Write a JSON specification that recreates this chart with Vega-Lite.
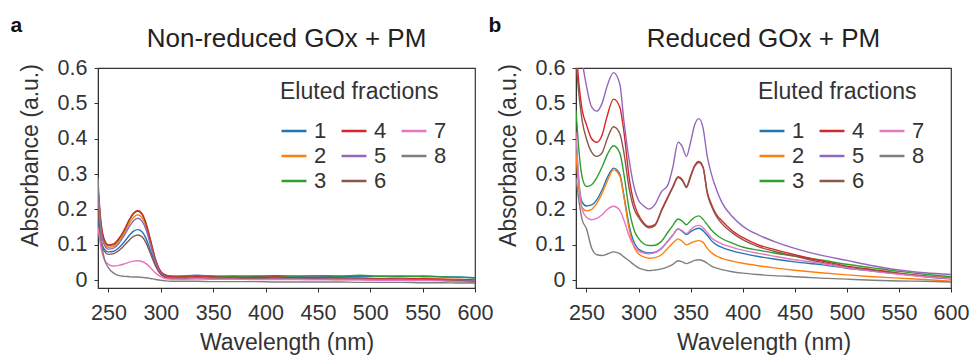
{
  "$schema": "https://vega.github.io/schema/vega-lite/v6.json",
  "padding": {"left": 10, "top": 15, "right": 0, "bottom": 0},
  "config": {
    "font": "Liberation Sans",
    "view": {"stroke": "#333", "strokeWidth": 1.2},
    "axis": {"grid": false, "domainColor": "#333", "tickColor": "#333", "tickSize": 4, "labelFontSize": 21.5, "labelColor": "#333", "titleFontSize": 23, "titleFontWeight": "normal", "titleColor": "#333", "labelOverlap": false, "labelFlush": false},
    "legend": {"orient": "none", "legendX": 182, "legendY": 13, "columns": 3, "symbolType": "stroke", "symbolSize": 620, "symbolStrokeWidth": 2.5, "labelFontSize": 22, "titleFontSize": 23, "titleFontWeight": "normal", "titleColor": "#333", "labelColor": "#333", "columnPadding": 9, "rowPadding": -2.5, "labelOffset": 6, "titlePadding": 13}
  },
  "datasets": {
    "a": [
      {"f":"1","w":240,"a":0.18},{"f":"1","w":243,"a":0.11},{"f":"1","w":246,"a":0.088},{"f":"1","w":250,"a":0.08},{"f":"1","w":255,"a":0.082},{"f":"1","w":260,"a":0.092},{"f":"1","w":265,"a":0.108},{"f":"1","w":270,"a":0.127},{"f":"1","w":274,"a":0.139},{"f":"1","w":278,"a":0.143},{"f":"1","w":282,"a":0.137},{"f":"1","w":286,"a":0.117},{"f":"1","w":290,"a":0.085},{"f":"1","w":295,"a":0.045},{"f":"1","w":300,"a":0.02},{"f":"1","w":305,"a":0.012},{"f":"1","w":310,"a":0.011},{"f":"1","w":320,"a":0.012},{"f":"1","w":335,"a":0.014},{"f":"1","w":350,"a":0.011},{"f":"1","w":370,"a":0.012},{"f":"1","w":390,"a":0.011},{"f":"1","w":410,"a":0.013},{"f":"1","w":430,"a":0.011},{"f":"1","w":450,"a":0.012},{"f":"1","w":470,"a":0.011},{"f":"1","w":490,"a":0.01},{"f":"1","w":510,"a":0.012},{"f":"1","w":530,"a":0.011},{"f":"1","w":550,"a":0.012},{"f":"1","w":570,"a":0.01},{"f":"1","w":585,"a":0.009},{"f":"1","w":600,"a":0.007},
      {"f":"2","w":240,"a":0.25},{"f":"2","w":243,"a":0.15},{"f":"2","w":246,"a":0.107},{"f":"2","w":250,"a":0.093},{"f":"2","w":255,"a":0.096},{"f":"2","w":260,"a":0.11},{"f":"2","w":265,"a":0.133},{"f":"2","w":270,"a":0.161},{"f":"2","w":274,"a":0.178},{"f":"2","w":278,"a":0.185},{"f":"2","w":282,"a":0.177},{"f":"2","w":286,"a":0.15},{"f":"2","w":290,"a":0.107},{"f":"2","w":295,"a":0.054},{"f":"2","w":300,"a":0.022},{"f":"2","w":305,"a":0.011},{"f":"2","w":310,"a":0.008},{"f":"2","w":320,"a":0.007},{"f":"2","w":335,"a":0.008},{"f":"2","w":350,"a":0.007},{"f":"2","w":370,"a":0.007},{"f":"2","w":390,"a":0.006},{"f":"2","w":410,"a":0.007},{"f":"2","w":430,"a":0.006},{"f":"2","w":450,"a":0.006},{"f":"2","w":470,"a":0.005},{"f":"2","w":490,"a":0.005},{"f":"2","w":510,"a":0.004},{"f":"2","w":530,"a":0.004},{"f":"2","w":550,"a":0.003},{"f":"2","w":570,"a":0.003},{"f":"2","w":585,"a":0.002},{"f":"2","w":600,"a":0},
      {"f":"3","w":240,"a":0.26},{"f":"3","w":243,"a":0.155},{"f":"3","w":246,"a":0.113},{"f":"3","w":250,"a":0.098},{"f":"3","w":255,"a":0.101},{"f":"3","w":260,"a":0.116},{"f":"3","w":265,"a":0.14},{"f":"3","w":270,"a":0.17},{"f":"3","w":274,"a":0.188},{"f":"3","w":278,"a":0.195},{"f":"3","w":282,"a":0.186},{"f":"3","w":286,"a":0.158},{"f":"3","w":290,"a":0.113},{"f":"3","w":295,"a":0.057},{"f":"3","w":300,"a":0.024},{"f":"3","w":305,"a":0.014},{"f":"3","w":310,"a":0.012},{"f":"3","w":320,"a":0.011},{"f":"3","w":335,"a":0.013},{"f":"3","w":350,"a":0.012},{"f":"3","w":370,"a":0.011},{"f":"3","w":390,"a":0.012},{"f":"3","w":410,"a":0.011},{"f":"3","w":430,"a":0.012},{"f":"3","w":450,"a":0.013},{"f":"3","w":470,"a":0.012},{"f":"3","w":490,"a":0.014},{"f":"3","w":510,"a":0.011},{"f":"3","w":530,"a":0.012},{"f":"3","w":550,"a":0.01},{"f":"3","w":570,"a":0.009},{"f":"3","w":585,"a":0.008},{"f":"3","w":600,"a":0.006},
      {"f":"4","w":240,"a":0.27},{"f":"4","w":243,"a":0.16},{"f":"4","w":246,"a":0.115},{"f":"4","w":250,"a":0.1},{"f":"4","w":255,"a":0.103},{"f":"4","w":260,"a":0.118},{"f":"4","w":265,"a":0.142},{"f":"4","w":270,"a":0.172},{"f":"4","w":274,"a":0.19},{"f":"4","w":278,"a":0.197},{"f":"4","w":282,"a":0.188},{"f":"4","w":286,"a":0.16},{"f":"4","w":290,"a":0.115},{"f":"4","w":295,"a":0.058},{"f":"4","w":300,"a":0.024},{"f":"4","w":305,"a":0.013},{"f":"4","w":310,"a":0.01},{"f":"4","w":320,"a":0.009},{"f":"4","w":335,"a":0.01},{"f":"4","w":350,"a":0.009},{"f":"4","w":370,"a":0.008},{"f":"4","w":390,"a":0.008},{"f":"4","w":410,"a":0.009},{"f":"4","w":430,"a":0.007},{"f":"4","w":450,"a":0.008},{"f":"4","w":470,"a":0.007},{"f":"4","w":490,"a":0.006},{"f":"4","w":510,"a":0.005},{"f":"4","w":530,"a":0.006},{"f":"4","w":550,"a":0.004},{"f":"4","w":570,"a":0.003},{"f":"4","w":585,"a":0.002},{"f":"4","w":600,"a":0.001},
      {"f":"5","w":240,"a":0.24},{"f":"5","w":243,"a":0.14},{"f":"5","w":246,"a":0.1},{"f":"5","w":250,"a":0.088},{"f":"5","w":255,"a":0.091},{"f":"5","w":260,"a":0.104},{"f":"5","w":265,"a":0.126},{"f":"5","w":270,"a":0.152},{"f":"5","w":274,"a":0.168},{"f":"5","w":278,"a":0.175},{"f":"5","w":282,"a":0.167},{"f":"5","w":286,"a":0.142},{"f":"5","w":290,"a":0.101},{"f":"5","w":295,"a":0.051},{"f":"5","w":300,"a":0.02},{"f":"5","w":305,"a":0.009},{"f":"5","w":310,"a":0.006},{"f":"5","w":320,"a":0.005},{"f":"5","w":335,"a":0.006},{"f":"5","w":350,"a":0.005},{"f":"5","w":370,"a":0.005},{"f":"5","w":390,"a":0.004},{"f":"5","w":410,"a":0.004},{"f":"5","w":430,"a":0.004},{"f":"5","w":450,"a":0.004},{"f":"5","w":470,"a":0.003},{"f":"5","w":490,"a":0.003},{"f":"5","w":510,"a":0.002},{"f":"5","w":530,"a":0.002},{"f":"5","w":550,"a":0.001},{"f":"5","w":570,"a":0.001},{"f":"5","w":585,"a":0},{"f":"5","w":600,"a":-0.002},
      {"f":"6","w":240,"a":0.2},{"f":"6","w":243,"a":0.11},{"f":"6","w":246,"a":0.082},{"f":"6","w":250,"a":0.073},{"f":"6","w":255,"a":0.075},{"f":"6","w":260,"a":0.084},{"f":"6","w":265,"a":0.098},{"f":"6","w":270,"a":0.114},{"f":"6","w":274,"a":0.124},{"f":"6","w":278,"a":0.128},{"f":"6","w":282,"a":0.123},{"f":"6","w":286,"a":0.105},{"f":"6","w":290,"a":0.076},{"f":"6","w":295,"a":0.04},{"f":"6","w":300,"a":0.016},{"f":"6","w":305,"a":0.007},{"f":"6","w":310,"a":0.005},{"f":"6","w":320,"a":0.004},{"f":"6","w":335,"a":0.005},{"f":"6","w":350,"a":0.004},{"f":"6","w":370,"a":0.004},{"f":"6","w":390,"a":0.004},{"f":"6","w":410,"a":0.003},{"f":"6","w":430,"a":0.003},{"f":"6","w":450,"a":0.003},{"f":"6","w":470,"a":0.002},{"f":"6","w":490,"a":0.002},{"f":"6","w":510,"a":0.001},{"f":"6","w":530,"a":0.001},{"f":"6","w":550,"a":0},{"f":"6","w":570,"a":0},{"f":"6","w":585,"a":-0.002},{"f":"6","w":600,"a":-0.004},
      {"f":"7","w":240,"a":0.15},{"f":"7","w":243,"a":0.09},{"f":"7","w":246,"a":0.058},{"f":"7","w":250,"a":0.045},{"f":"7","w":255,"a":0.04},{"f":"7","w":260,"a":0.042},{"f":"7","w":265,"a":0.046},{"f":"7","w":270,"a":0.051},{"f":"7","w":274,"a":0.054},{"f":"7","w":278,"a":0.055},{"f":"7","w":282,"a":0.053},{"f":"7","w":286,"a":0.047},{"f":"7","w":290,"a":0.036},{"f":"7","w":295,"a":0.02},{"f":"7","w":300,"a":0.01},{"f":"7","w":305,"a":0.004},{"f":"7","w":310,"a":0.003},{"f":"7","w":320,"a":0.003},{"f":"7","w":335,"a":0.004},{"f":"7","w":350,"a":0.003},{"f":"7","w":370,"a":0.003},{"f":"7","w":390,"a":0.002},{"f":"7","w":410,"a":0.002},{"f":"7","w":430,"a":0.002},{"f":"7","w":450,"a":0.001},{"f":"7","w":470,"a":0.001},{"f":"7","w":490,"a":0.001},{"f":"7","w":510,"a":0},{"f":"7","w":530,"a":0},{"f":"7","w":550,"a":-0.001},{"f":"7","w":570,"a":-0.002},{"f":"7","w":585,"a":-0.004},{"f":"7","w":600,"a":-0.006},
      {"f":"8","w":240,"a":0.29},{"f":"8","w":243,"a":0.12},{"f":"8","w":246,"a":0.062},{"f":"8","w":250,"a":0.035},{"f":"8","w":255,"a":0.02},{"f":"8","w":260,"a":0.013},{"f":"8","w":265,"a":0.011},{"f":"8","w":270,"a":0.01},{"f":"8","w":274,"a":0.009},{"f":"8","w":278,"a":0.009},{"f":"8","w":282,"a":0.008},{"f":"8","w":286,"a":0.007},{"f":"8","w":290,"a":0.005},{"f":"8","w":295,"a":0.002},{"f":"8","w":300,"a":0},{"f":"8","w":305,"a":-0.002},{"f":"8","w":310,"a":-0.003},{"f":"8","w":320,"a":-0.003},{"f":"8","w":335,"a":-0.003},{"f":"8","w":350,"a":-0.004},{"f":"8","w":370,"a":-0.004},{"f":"8","w":390,"a":-0.004},{"f":"8","w":410,"a":-0.005},{"f":"8","w":430,"a":-0.005},{"f":"8","w":450,"a":-0.005},{"f":"8","w":470,"a":-0.005},{"f":"8","w":490,"a":-0.006},{"f":"8","w":510,"a":-0.006},{"f":"8","w":530,"a":-0.006},{"f":"8","w":550,"a":-0.007},{"f":"8","w":570,"a":-0.007},{"f":"8","w":585,"a":-0.008},{"f":"8","w":600,"a":-0.008}
    ],
    "b": [
      {"f":"1","w":240,"a":0.4},{"f":"1","w":243,"a":0.27},{"f":"1","w":246,"a":0.22},{"f":"1","w":250,"a":0.21},{"f":"1","w":255,"a":0.213},{"f":"1","w":260,"a":0.228},{"f":"1","w":265,"a":0.255},{"f":"1","w":270,"a":0.29},{"f":"1","w":276,"a":0.317},{"f":"1","w":282,"a":0.3},{"f":"1","w":286,"a":0.24},{"f":"1","w":291,"a":0.155},{"f":"1","w":296,"a":0.105},{"f":"1","w":300,"a":0.088},{"f":"1","w":305,"a":0.08},{"f":"1","w":310,"a":0.077},{"f":"1","w":316,"a":0.079},{"f":"1","w":322,"a":0.09},{"f":"1","w":328,"a":0.11},{"f":"1","w":333,"a":0.128},{"f":"1","w":338,"a":0.145},{"f":"1","w":342,"a":0.138},{"f":"1","w":346,"a":0.129},{"f":"1","w":350,"a":0.137},{"f":"1","w":354,"a":0.144},{"f":"1","w":358,"a":0.147},{"f":"1","w":362,"a":0.14},{"f":"1","w":366,"a":0.127},{"f":"1","w":370,"a":0.112},{"f":"1","w":375,"a":0.1},{"f":"1","w":380,"a":0.093},{"f":"1","w":390,"a":0.083},{"f":"1","w":400,"a":0.076},{"f":"1","w":415,"a":0.067},{"f":"1","w":430,"a":0.06},{"f":"1","w":450,"a":0.052},{"f":"1","w":475,"a":0.044},{"f":"1","w":500,"a":0.034},{"f":"1","w":525,"a":0.026},{"f":"1","w":550,"a":0.018},{"f":"1","w":575,"a":0.01},{"f":"1","w":600,"a":0.004},
      {"f":"2","w":240,"a":0.36},{"f":"2","w":243,"a":0.25},{"f":"2","w":246,"a":0.205},{"f":"2","w":250,"a":0.196},{"f":"2","w":255,"a":0.2},{"f":"2","w":260,"a":0.218},{"f":"2","w":265,"a":0.245},{"f":"2","w":270,"a":0.28},{"f":"2","w":276,"a":0.312},{"f":"2","w":282,"a":0.295},{"f":"2","w":286,"a":0.235},{"f":"2","w":291,"a":0.145},{"f":"2","w":296,"a":0.092},{"f":"2","w":300,"a":0.075},{"f":"2","w":305,"a":0.066},{"f":"2","w":310,"a":0.062},{"f":"2","w":316,"a":0.064},{"f":"2","w":322,"a":0.072},{"f":"2","w":328,"a":0.09},{"f":"2","w":333,"a":0.105},{"f":"2","w":338,"a":0.117},{"f":"2","w":342,"a":0.11},{"f":"2","w":346,"a":0.1},{"f":"2","w":350,"a":0.105},{"f":"2","w":354,"a":0.11},{"f":"2","w":358,"a":0.112},{"f":"2","w":362,"a":0.107},{"f":"2","w":366,"a":0.09},{"f":"2","w":370,"a":0.078},{"f":"2","w":375,"a":0.068},{"f":"2","w":380,"a":0.062},{"f":"2","w":390,"a":0.054},{"f":"2","w":400,"a":0.048},{"f":"2","w":415,"a":0.041},{"f":"2","w":430,"a":0.035},{"f":"2","w":450,"a":0.028},{"f":"2","w":475,"a":0.021},{"f":"2","w":500,"a":0.015},{"f":"2","w":525,"a":0.01},{"f":"2","w":550,"a":0.006},{"f":"2","w":575,"a":0.002},{"f":"2","w":600,"a":-0.003},
      {"f":"3","w":240,"a":0.48},{"f":"3","w":243,"a":0.36},{"f":"3","w":246,"a":0.29},{"f":"3","w":250,"a":0.265},{"f":"3","w":255,"a":0.27},{"f":"3","w":260,"a":0.29},{"f":"3","w":265,"a":0.32},{"f":"3","w":270,"a":0.355},{"f":"3","w":276,"a":0.38},{"f":"3","w":282,"a":0.36},{"f":"3","w":286,"a":0.3},{"f":"3","w":291,"a":0.2},{"f":"3","w":296,"a":0.14},{"f":"3","w":300,"a":0.118},{"f":"3","w":305,"a":0.103},{"f":"3","w":310,"a":0.098},{"f":"3","w":316,"a":0.099},{"f":"3","w":322,"a":0.11},{"f":"3","w":328,"a":0.135},{"f":"3","w":333,"a":0.155},{"f":"3","w":338,"a":0.173},{"f":"3","w":342,"a":0.167},{"f":"3","w":346,"a":0.157},{"f":"3","w":350,"a":0.168},{"f":"3","w":354,"a":0.178},{"f":"3","w":358,"a":0.182},{"f":"3","w":362,"a":0.172},{"f":"3","w":366,"a":0.157},{"f":"3","w":370,"a":0.142},{"f":"3","w":375,"a":0.128},{"f":"3","w":380,"a":0.118},{"f":"3","w":390,"a":0.105},{"f":"3","w":400,"a":0.094},{"f":"3","w":415,"a":0.085},{"f":"3","w":430,"a":0.077},{"f":"3","w":450,"a":0.068},{"f":"3","w":475,"a":0.057},{"f":"3","w":500,"a":0.045},{"f":"3","w":525,"a":0.035},{"f":"3","w":550,"a":0.025},{"f":"3","w":575,"a":0.017},{"f":"3","w":600,"a":0.01},
      {"f":"4","w":240,"a":0.66},{"f":"4","w":243,"a":0.55},{"f":"4","w":246,"a":0.48},{"f":"4","w":250,"a":0.44},{"f":"4","w":255,"a":0.4},{"f":"4","w":260,"a":0.39},{"f":"4","w":265,"a":0.41},{"f":"4","w":270,"a":0.465},{"f":"4","w":276,"a":0.512},{"f":"4","w":282,"a":0.49},{"f":"4","w":286,"a":0.42},{"f":"4","w":291,"a":0.29},{"f":"4","w":296,"a":0.215},{"f":"4","w":300,"a":0.185},{"f":"4","w":305,"a":0.162},{"f":"4","w":310,"a":0.152},{"f":"4","w":316,"a":0.158},{"f":"4","w":322,"a":0.198},{"f":"4","w":328,"a":0.235},{"f":"4","w":333,"a":0.265},{"f":"4","w":338,"a":0.293},{"f":"4","w":342,"a":0.285},{"f":"4","w":346,"a":0.265},{"f":"4","w":350,"a":0.295},{"f":"4","w":354,"a":0.325},{"f":"4","w":358,"a":0.336},{"f":"4","w":362,"a":0.32},{"f":"4","w":366,"a":0.25},{"f":"4","w":370,"a":0.215},{"f":"4","w":375,"a":0.185},{"f":"4","w":380,"a":0.168},{"f":"4","w":390,"a":0.14},{"f":"4","w":400,"a":0.121},{"f":"4","w":415,"a":0.1},{"f":"4","w":430,"a":0.087},{"f":"4","w":450,"a":0.072},{"f":"4","w":475,"a":0.055},{"f":"4","w":500,"a":0.04},{"f":"4","w":525,"a":0.03},{"f":"4","w":550,"a":0.02},{"f":"4","w":575,"a":0.012},{"f":"4","w":600,"a":0.006},
      {"f":"5","w":240,"a":0.8},{"f":"5","w":243,"a":0.7},{"f":"5","w":246,"a":0.62},{"f":"5","w":250,"a":0.55},{"f":"5","w":255,"a":0.49},{"f":"5","w":260,"a":0.478},{"f":"5","w":265,"a":0.5},{"f":"5","w":270,"a":0.55},{"f":"5","w":276,"a":0.587},{"f":"5","w":282,"a":0.555},{"f":"5","w":286,"a":0.45},{"f":"5","w":291,"a":0.34},{"f":"5","w":296,"a":0.26},{"f":"5","w":300,"a":0.226},{"f":"5","w":305,"a":0.21},{"f":"5","w":310,"a":0.201},{"f":"5","w":316,"a":0.215},{"f":"5","w":322,"a":0.25},{"f":"5","w":328,"a":0.268},{"f":"5","w":333,"a":0.32},{"f":"5","w":338,"a":0.39},{"f":"5","w":342,"a":0.378},{"f":"5","w":346,"a":0.35},{"f":"5","w":350,"a":0.39},{"f":"5","w":354,"a":0.44},{"f":"5","w":358,"a":0.457},{"f":"5","w":362,"a":0.43},{"f":"5","w":366,"a":0.35},{"f":"5","w":370,"a":0.3},{"f":"5","w":375,"a":0.255},{"f":"5","w":380,"a":0.22},{"f":"5","w":390,"a":0.18},{"f":"5","w":400,"a":0.153},{"f":"5","w":415,"a":0.128},{"f":"5","w":430,"a":0.11},{"f":"5","w":450,"a":0.09},{"f":"5","w":475,"a":0.071},{"f":"5","w":500,"a":0.056},{"f":"5","w":525,"a":0.041},{"f":"5","w":550,"a":0.029},{"f":"5","w":575,"a":0.021},{"f":"5","w":600,"a":0.016},
      {"f":"6","w":240,"a":0.62},{"f":"6","w":243,"a":0.52},{"f":"6","w":246,"a":0.45},{"f":"6","w":250,"a":0.4},{"f":"6","w":255,"a":0.362},{"f":"6","w":260,"a":0.35},{"f":"6","w":265,"a":0.36},{"f":"6","w":270,"a":0.4},{"f":"6","w":276,"a":0.434},{"f":"6","w":282,"a":0.415},{"f":"6","w":286,"a":0.36},{"f":"6","w":291,"a":0.26},{"f":"6","w":296,"a":0.2},{"f":"6","w":300,"a":0.178},{"f":"6","w":305,"a":0.158},{"f":"6","w":310,"a":0.148},{"f":"6","w":316,"a":0.155},{"f":"6","w":322,"a":0.195},{"f":"6","w":328,"a":0.232},{"f":"6","w":333,"a":0.262},{"f":"6","w":338,"a":0.29},{"f":"6","w":342,"a":0.282},{"f":"6","w":346,"a":0.262},{"f":"6","w":350,"a":0.292},{"f":"6","w":354,"a":0.322},{"f":"6","w":358,"a":0.333},{"f":"6","w":362,"a":0.318},{"f":"6","w":366,"a":0.245},{"f":"6","w":370,"a":0.21},{"f":"6","w":375,"a":0.18},{"f":"6","w":380,"a":0.16},{"f":"6","w":390,"a":0.134},{"f":"6","w":400,"a":0.115},{"f":"6","w":415,"a":0.095},{"f":"6","w":430,"a":0.082},{"f":"6","w":450,"a":0.068},{"f":"6","w":475,"a":0.051},{"f":"6","w":500,"a":0.037},{"f":"6","w":525,"a":0.028},{"f":"6","w":550,"a":0.019},{"f":"6","w":575,"a":0.011},{"f":"6","w":600,"a":0.005},
      {"f":"7","w":240,"a":0.42},{"f":"7","w":243,"a":0.27},{"f":"7","w":246,"a":0.2},{"f":"7","w":250,"a":0.178},{"f":"7","w":255,"a":0.171},{"f":"7","w":260,"a":0.175},{"f":"7","w":265,"a":0.185},{"f":"7","w":270,"a":0.2},{"f":"7","w":276,"a":0.209},{"f":"7","w":282,"a":0.198},{"f":"7","w":286,"a":0.17},{"f":"7","w":291,"a":0.125},{"f":"7","w":296,"a":0.095},{"f":"7","w":300,"a":0.083},{"f":"7","w":305,"a":0.077},{"f":"7","w":310,"a":0.075},{"f":"7","w":316,"a":0.078},{"f":"7","w":322,"a":0.09},{"f":"7","w":328,"a":0.11},{"f":"7","w":333,"a":0.128},{"f":"7","w":338,"a":0.145},{"f":"7","w":342,"a":0.14},{"f":"7","w":346,"a":0.132},{"f":"7","w":350,"a":0.143},{"f":"7","w":354,"a":0.152},{"f":"7","w":358,"a":0.155},{"f":"7","w":362,"a":0.148},{"f":"7","w":366,"a":0.135},{"f":"7","w":370,"a":0.12},{"f":"7","w":375,"a":0.11},{"f":"7","w":380,"a":0.103},{"f":"7","w":390,"a":0.093},{"f":"7","w":400,"a":0.085},{"f":"7","w":415,"a":0.076},{"f":"7","w":430,"a":0.068},{"f":"7","w":450,"a":0.058},{"f":"7","w":475,"a":0.048},{"f":"7","w":500,"a":0.035},{"f":"7","w":525,"a":0.025},{"f":"7","w":550,"a":0.017},{"f":"7","w":575,"a":0.01},{"f":"7","w":600,"a":0.005},
      {"f":"8","w":240,"a":0.29},{"f":"8","w":243,"a":0.22},{"f":"8","w":246,"a":0.17},{"f":"8","w":250,"a":0.146},{"f":"8","w":255,"a":0.091},{"f":"8","w":260,"a":0.072},{"f":"8","w":265,"a":0.07},{"f":"8","w":270,"a":0.074},{"f":"8","w":276,"a":0.08},{"f":"8","w":282,"a":0.075},{"f":"8","w":286,"a":0.066},{"f":"8","w":291,"a":0.055},{"f":"8","w":296,"a":0.043},{"f":"8","w":300,"a":0.035},{"f":"8","w":305,"a":0.03},{"f":"8","w":310,"a":0.027},{"f":"8","w":316,"a":0.029},{"f":"8","w":322,"a":0.032},{"f":"8","w":328,"a":0.038},{"f":"8","w":333,"a":0.045},{"f":"8","w":338,"a":0.055},{"f":"8","w":342,"a":0.052},{"f":"8","w":346,"a":0.047},{"f":"8","w":350,"a":0.051},{"f":"8","w":354,"a":0.056},{"f":"8","w":358,"a":0.058},{"f":"8","w":362,"a":0.055},{"f":"8","w":366,"a":0.048},{"f":"8","w":370,"a":0.04},{"f":"8","w":375,"a":0.034},{"f":"8","w":380,"a":0.03},{"f":"8","w":390,"a":0.024},{"f":"8","w":400,"a":0.02},{"f":"8","w":415,"a":0.016},{"f":"8","w":430,"a":0.013},{"f":"8","w":450,"a":0.01},{"f":"8","w":475,"a":0.006},{"f":"8","w":500,"a":0.003},{"f":"8","w":525,"a":0},{"f":"8","w":550,"a":-0.002},{"f":"8","w":575,"a":-0.003},{"f":"8","w":600,"a":-0.005}
    ]
  },
  "spacing": -6,
  "resolve": {"scale": {"color": "independent"}, "legend": {"color": "independent"}},
  "hconcat": [
    {
      "title": {"text": "a", "anchor": "start", "fontSize": 21, "fontWeight": "bold", "color": "#111", "offset": 0, "dy": 11, "dx": -8},
      "resolve": {"legend": {"color": "independent"}},
      "vconcat": [
        {
          "width": 377, "height": 220,
          "title": {"text": "Non-reduced GOx + PM", "fontSize": 26, "fontWeight": "normal", "color": "#222", "offset": 5},
          "data": {"name": "a"},
          "mark": {"type": "line", "strokeWidth": 1.4, "interpolate": "monotone", "clip": true},
          "encoding": {
            "x": {"field": "w", "type": "quantitative", "scale": {"domain": [240, 600], "nice": false, "zero": false}, "axis": {"values": [250, 300, 350, 400, 450, 500, 550, 600], "title": "Wavelength (nm)", "labelPadding": 10, "titlePadding": 8}},
            "y": {"field": "a", "type": "quantitative", "scale": {"domain": [-0.022, 0.6], "nice": false, "zero": false}, "axis": {"values": [0, 0.1, 0.2, 0.3, 0.4, 0.5, 0.6], "format": "~g", "title": "Absorbance (a.u.)", "labelPadding": 7, "titleX": -56, "titleY": 87}},
            "color": {"field": "f", "type": "nominal", "scale": {"domain": ["1", "2", "3", "4", "5", "6", "7", "8"], "range": ["#1f77b4", "#ff7f0e", "#2ca02c", "#d62728", "#9467bd", "#8c564b", "#e377c2", "#7f7f7f"]}, "legend": {"title": "Eluted fractions"}}
          }
        }
      ]
    },
    {
      "title": {"text": "b", "anchor": "start", "fontSize": 21, "fontWeight": "bold", "color": "#111", "offset": 0, "dy": 11, "dx": -8},
      "resolve": {"legend": {"color": "independent"}},
      "vconcat": [
        {
          "width": 375, "height": 220,
          "title": {"text": "Reduced GOx + PM", "fontSize": 26, "fontWeight": "normal", "color": "#222", "offset": 5},
          "data": {"name": "b"},
          "mark": {"type": "line", "strokeWidth": 1.4, "interpolate": "monotone", "clip": true},
          "encoding": {
            "x": {"field": "w", "type": "quantitative", "scale": {"domain": [240, 600], "nice": false, "zero": false}, "axis": {"values": [250, 300, 350, 400, 450, 500, 550, 600], "title": "Wavelength (nm)", "labelPadding": 10, "titlePadding": 8}},
            "y": {"field": "a", "type": "quantitative", "scale": {"domain": [-0.022, 0.6], "nice": false, "zero": false}, "axis": {"values": [0, 0.1, 0.2, 0.3, 0.4, 0.5, 0.6], "format": "~g", "title": "Absorbance (a.u.)", "labelPadding": 7, "titleX": -56, "titleY": 87}},
            "color": {"field": "f", "type": "nominal", "scale": {"domain": ["1", "2", "3", "4", "5", "6", "7", "8"], "range": ["#1f77b4", "#ff7f0e", "#2ca02c", "#d62728", "#9467bd", "#8c564b", "#e377c2", "#7f7f7f"]}, "legend": {"title": "Eluted fractions"}}
          }
        }
      ]
    }
  ]
}
